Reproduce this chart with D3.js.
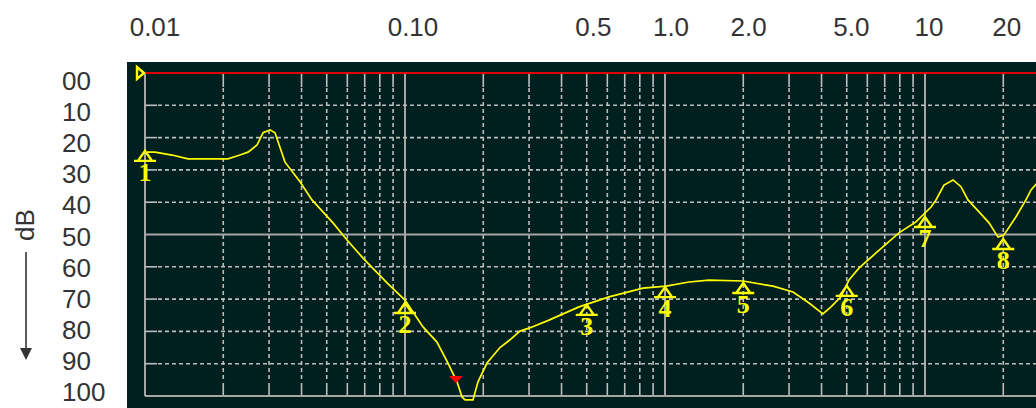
<!DOCTYPE html>
<html>
<head>
<meta charset="utf-8">
<script src="https://cdn.jsdelivr.net/npm/d3@7"></script>
<style>
  body { margin: 0; background: #fff; }
  svg { display: block; }
</style>
</head>
<body>
<div id="chart"></div>
<script>
// frequency ticks shown on top, and the dB ticks on the left
var freqLabels = [0.01, 0.1, 0.5, 1, 2, 5, 10, 20];
var freqLabelText = ["0.01", "0.10", "0.5", "1.0", "2.0", "5.0", "10", "20"];
var dbTicks = [0, 10, 20, 30, 40, 50, 60, 70, 80, 90, 100];
var dbTickText = ["00", "10", "20", "30", "40", "50", "60", "70", "80", "90", "100"];

// the response trace (frequency, dB down)
var traceFreq = [0.01015, 0.01093, 0.0127, 0.01464, 0.02085, 0.02319, 0.0249, 0.02697, 0.02844, 0.03026,
  0.03162, 0.03455, 0.03947, 0.04387, 0.05285, 0.05983, 0.06893, 0.0853, 0.1, 0.1173,
  0.1327, 0.1463, 0.1585, 0.1657, 0.1702, 0.1826, 0.1909, 0.2067, 0.2319, 0.2535,
  0.2768, 0.2999, 0.358, 0.4669, 0.6091, 0.8227, 1.009, 1.237, 1.476, 1.995,
  2.603, 3.107, 3.58, 4.05, 4.35, 4.75, 5.1, 5.57, 6.48, 7.94,
  9.23, 10.55, 11.02, 11.83, 12.82, 13.75, 14.63, 16.14, 17.63, 19.09,
  20.1, 22.39, 24.44, 25.58, 27.68];
var traceDb = [24.5, 24.5, 25.4, 26.6, 26.6, 25.4, 24.5, 22.3, 18.5, 17.6,
  18.5, 27.6, 33.7, 39.3, 46.4, 51.7, 57.3, 65, 70.3, 78.6,
  83.3, 89.8, 95.6, 100.3, 101.2, 101.2, 95.6, 89.8, 85, 82.6,
  79.9, 79, 76.5, 72.4, 69.3, 66.6, 66, 64.7, 64.1, 64.4,
  66, 67.8, 71.2, 74.6, 72.4, 69.3, 64.1, 60.4, 55.7, 49.5,
  46.1, 41.5, 39.3, 34.7, 33.1, 35.2, 39.3, 43, 46.4, 50.8,
  50.2, 44.5, 39.3, 36.2, 33];

// numbered markers
var markerFreq = [0.01, 0.1, 0.5, 1, 2, 5, 10, 20];
var markerDb = [24.1, 71.2, 71.8, 66.3, 65, 65.9, 44.6, 51.4];
var markerName = ["1", "2", "3", "4", "5", "6", "7", "8"];

// red minimum marker
var minFreq = [0.157];
var minDb = [96];

var width = 1036, height = 408;

var svg = d3.select("#chart").append("svg")
  .attr("width", width)
  .attr("height", height);

var x = d3.scaleLog().domain([0.01, 100]).range([145, 1185]);
var y = d3.scaleLinear().domain([0, 100]).range([73, 396]);

// label placement scales (labels sit a little off the grid)
var xLabel = d3.scaleLog().domain([0.01, 10]).range([155, 929]);
var yLabel = d3.scaleLinear().domain([0, 100]).range([81, 392]);

var grid = "#bdbdbd";
var solid = "#a6a6a6";
var yellow = "#ffff00";

// dark panel
svg.append("rect")
  .attr("x", 127).attr("y", 62)
  .attr("width", width - 127).attr("height", height - 62)
  .attr("fill", "#001f1f");

var plot = svg.append("g");

// vertical grid
var vt = x.ticks().filter(function(d) { return x(d) <= width; });
vt.forEach(function(d) {
  var major = Math.abs(Math.log10(d) - Math.round(Math.log10(d))) < 1e-6;
  if (major) {
    plot.append("line")
      .attr("x1", x(d)).attr("x2", x(d))
      .attr("y1", y(0)).attr("y2", y(100))
      .attr("stroke", solid).attr("stroke-width", 2);
  } else {
    plot.append("line")
      .attr("x1", x(d)).attr("x2", x(d))
      .attr("y1", y(0) + 15).attr("y2", y(100) - 14)
      .attr("stroke", grid).attr("stroke-width", 1.6)
      .attr("stroke-dasharray", "4,3");
    plot.append("line")
      .attr("x1", x(d)).attr("x2", x(d))
      .attr("y1", y(0)).attr("y2", y(0) + 14)
      .attr("stroke", grid).attr("stroke-width", 1.6);
    plot.append("line")
      .attr("x1", x(d)).attr("x2", x(d))
      .attr("y1", y(100) - 13).attr("y2", y(100))
      .attr("stroke", grid).attr("stroke-width", 1.6);
  }
});

// horizontal grid
dbTicks.forEach(function(d) {
  if (d === 0) return;
  if (d === 50 || d === 100) {
    plot.append("line")
      .attr("x1", x(0.01)).attr("x2", width)
      .attr("y1", y(d)).attr("y2", y(d))
      .attr("stroke", solid).attr("stroke-width", 2);
  } else {
    plot.append("line")
      .attr("x1", x(0.01) + 13).attr("x2", width)
      .attr("y1", y(d)).attr("y2", y(d))
      .attr("stroke", grid).attr("stroke-width", 1.6)
      .attr("stroke-dasharray", "4,3");
    plot.append("line")
      .attr("x1", x(0.01)).attr("x2", x(0.01) + 12)
      .attr("y1", y(d)).attr("y2", y(d))
      .attr("stroke", grid).attr("stroke-width", 1.6);
  }
});

// 0 dB reference line (red)
plot.append("line")
  .attr("x1", x(0.01)).attr("x2", width)
  .attr("y1", y(0)).attr("y2", y(0))
  .attr("stroke", "#e00000").attr("stroke-width", 2.2);

// reference pointer on the left
plot.append("path")
  .attr("d", "M" + (x(0.01) - 8) + "," + (y(0) - 6) + "L" + (x(0.01) - 1) + "," + y(0) +
    "L" + (x(0.01) - 8) + "," + (y(0) + 6) + "Z")
  .attr("fill", "#001f1f").attr("stroke", yellow).attr("stroke-width", 2.4);

// trace
var traceData = traceFreq.map(function(f, i) { return [f, traceDb[i]]; });
plot.append("path")
  .datum(traceData)
  .attr("fill", "none")
  .attr("stroke", yellow)
  .attr("stroke-width", 1.7)
  .attr("d", d3.line().x(function(d) { return x(d[0]); }).y(function(d) { return y(d[1]); }));

// numbered markers
var mk = plot.selectAll(".marker")
  .data(markerFreq)
  .enter().append("g")
  .attr("class", "marker")
  .attr("transform", function(d, i) { return "translate(" + x(d) + "," + y(markerDb[i]) + ")"; });

mk.append("path")
  .attr("d", "M0,0L-7,10L7,10Z M-11,10L11,10")
  .attr("fill", "none")
  .attr("stroke", yellow)
  .attr("stroke-width", 2.4);

mk.append("text")
  .attr("x", 0).attr("y", 30)
  .attr("text-anchor", "middle")
  .attr("font-family", "'Liberation Serif', 'DejaVu Serif', serif")
  .attr("font-weight", "bold")
  .attr("font-size", 26)
  .attr("fill", yellow)
  .text(function(d, i) { return markerName[i]; });

// red minimum marker
plot.selectAll(".minmark")
  .data(minFreq)
  .enter().append("path")
  .attr("class", "minmark")
  .attr("d", function(d, i) {
    var cx = x(d), cy = y(minDb[i]);
    return "M" + (cx - 7) + "," + (cy - 7) + "L" + (cx + 7) + "," + (cy - 7) + "L" + cx + "," + cy + "Z";
  })
  .attr("fill", "#ff0000");

// top frequency labels
svg.selectAll(".flabel")
  .data(freqLabels)
  .enter().append("text")
  .attr("class", "flabel")
  .attr("x", function(d) { return xLabel(d); })
  .attr("y", 36)
  .attr("text-anchor", "middle")
  .attr("font-family", "'Liberation Sans', Arial, sans-serif")
  .attr("font-size", 26)
  .attr("fill", "#333")
  .text(function(d, i) { return freqLabelText[i]; });

// left dB labels
svg.selectAll(".dblabel")
  .data(dbTicks)
  .enter().append("text")
  .attr("class", "dblabel")
  .attr("x", 62)
  .attr("y", function(d) { return yLabel(d) + 9; })
  .attr("font-family", "'Liberation Sans', Arial, sans-serif")
  .attr("font-size", 26)
  .attr("fill", "#333")
  .text(function(d, i) { return dbTickText[i]; });

// axis title with arrow
svg.append("text")
  .attr("transform", "translate(34,225) rotate(-90)")
  .attr("text-anchor", "middle")
  .attr("font-family", "'Liberation Sans', Arial, sans-serif")
  .attr("font-size", 26)
  .attr("fill", "#333")
  .text("dB");

svg.append("line")
  .attr("x1", 26).attr("x2", 26)
  .attr("y1", 252).attr("y2", 350)
  .attr("stroke", "#333").attr("stroke-width", 1.6);

svg.append("path")
  .attr("d", "M20,348L32,348L26,360Z")
  .attr("fill", "#333");
</script>
</body>
</html>
